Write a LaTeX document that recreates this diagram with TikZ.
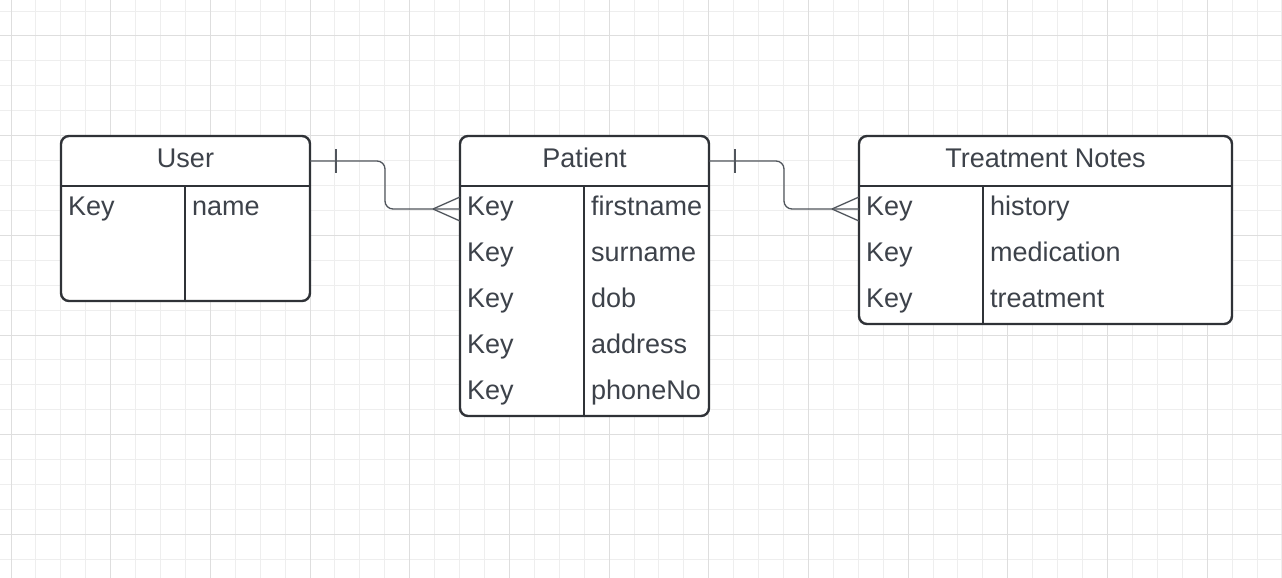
\documentclass[tikz,border=0pt]{standalone}
\usepackage{fontspec}
\setmainfont{Liberation Sans}
\usetikzlibrary{calc}
\definecolor{gridminor}{HTML}{EEEEEE}
\definecolor{gridmajor}{HTML}{DEDEDE}
\definecolor{border}{HTML}{2F3237}
\definecolor{conn}{HTML}{50555C}
\definecolor{txtc}{HTML}{3D424A}
\begin{document}
\begin{tikzpicture}[x=1pt,y=-1pt,
  tbl/.style={draw=border, line width=2.4pt, rounded corners=8pt, anchor=north west, inner sep=0pt, outer sep=0pt, fill=white},
  area/.style={anchor=north west, inner sep=0pt, outer sep=0pt},
  tline/.style={draw=border, line width=2.4pt},
  txt/.style={inner sep=0pt, text=txtc, font=\fontsize{27}{32}\selectfont},
  lbl/.style={txt, anchor=base west},
  ttl/.style={txt, anchor=base},
  connector/.style={draw=conn, line width=1.3pt, rounded corners=8pt},
  mark line/.style={draw=conn, line width=1.3pt}]
\useasboundingbox (0,0) rectangle (1282,578);
\fill[white] (0,0) rectangle (1282,578);
% grid
\foreach \i in {0,...,51} { \draw[gridminor, line width=1pt] ({11+24.92*\i},0) -- ({11+24.92*\i},578); }
\foreach \j in {-1,...,21} { \draw[gridminor, line width=1pt] (0,{36+24.92*\j}) -- (1282,{36+24.92*\j}); }
\foreach \k in {0,...,12} { \draw[gridmajor, line width=1pt] ({11+99.68*\k},0) -- ({11+99.68*\k},578); }
\foreach \k in {0,...,5} { \draw[gridmajor, line width=1pt] (0,{36+99.68*\k}) -- (1282,{36+99.68*\k}); }

% User table
\node[tbl, minimum width=249pt, minimum height=165pt] (user) at (61,136) {};
\node[area, minimum width=249pt, minimum height=50pt] (userh) at (61,136) {};
\node[area, minimum width=124pt, minimum height=46pt] (userk1) at (61,186) {};
\draw[tline] (userh.south west) -- (userh.south east);
\draw[tline] (userk1.north east) -- (userk1.north east |- user.south);
\node[ttl] (usert) at (185.5,167) {User};
\node[lbl] (userka) at (68,215) {Key};
\node[lbl] (userva) at (192,215) {name};

% Patient table
\node[tbl, minimum width=249pt, minimum height=280pt] (patient) at (460,136) {};
\node[area, minimum width=249pt, minimum height=50pt] (patienth) at (460,136) {};
\node[area, minimum width=124pt, minimum height=46pt] (patientk1) at (460,186) {};
\draw[tline] (patienth.south west) -- (patienth.south east);
\draw[tline] (patientk1.north east) -- (patientk1.north east |- patient.south);
\node[ttl] (patientt) at (584.5,167) {Patient};
\node[lbl] (pka) at (467,215) {Key};
\node[lbl] (pkb) at (467,261) {Key};
\node[lbl] (pkc) at (467,307) {Key};
\node[lbl] (pkd) at (467,353) {Key};
\node[lbl] (pke) at (467,399) {Key};
\node[lbl] (pva) at (591,215) {firstname};
\node[lbl] (pvb) at (591,261) {surname};
\node[lbl] (pvc) at (591,307) {dob};
\node[lbl] (pvd) at (591,353) {address};
\node[lbl] (pve) at (591,399) {phoneNo};

% Treatment Notes table
\node[tbl, minimum width=373pt, minimum height=188pt] (notes) at (859,136) {};
\node[area, minimum width=373pt, minimum height=50pt] (notesh) at (859,136) {};
\node[area, minimum width=124pt, minimum height=46pt] (notesk1) at (859,186) {};
\draw[tline] (notesh.south west) -- (notesh.south east);
\draw[tline] (notesk1.north east) -- (notesk1.north east |- notes.south);
\node[ttl] (notest) at (1045.5,167) {Treatment Notes};
\node[lbl] (nka) at (866,215) {Key};
\node[lbl] (nkb) at (866,261) {Key};
\node[lbl] (nkc) at (866,307) {Key};
\node[lbl] (nva) at (990,215) {history};
\node[lbl] (nvb) at (990,261) {medication};
\node[lbl] (nvc) at (990,307) {treatment};

% connector User -> Patient
\draw[connector] (userh.east) -| ($(userh.east)!0.5!(patientk1.west)$) |- (patientk1.west);
\draw[mark line] ($(userh.east)+(26,-12)$) -- ++(0,24);
\draw[mark line] ($(patientk1.west)+(-27,0)$) -- ($(patientk1.west)+(0,-12)$);
\draw[mark line] ($(patientk1.west)+(-27,0)$) -- ($(patientk1.west)+(0,12)$);

% connector Patient -> Treatment Notes
\draw[connector] (patienth.east) -| ($(patienth.east)!0.5!(notesk1.west)$) |- (notesk1.west);
\draw[mark line] ($(patienth.east)+(26,-12)$) -- ++(0,24);
\draw[mark line] ($(notesk1.west)+(-27,0)$) -- ($(notesk1.west)+(0,-12)$);
\draw[mark line] ($(notesk1.west)+(-27,0)$) -- ($(notesk1.west)+(0,12)$);
\end{tikzpicture}
\end{document}
